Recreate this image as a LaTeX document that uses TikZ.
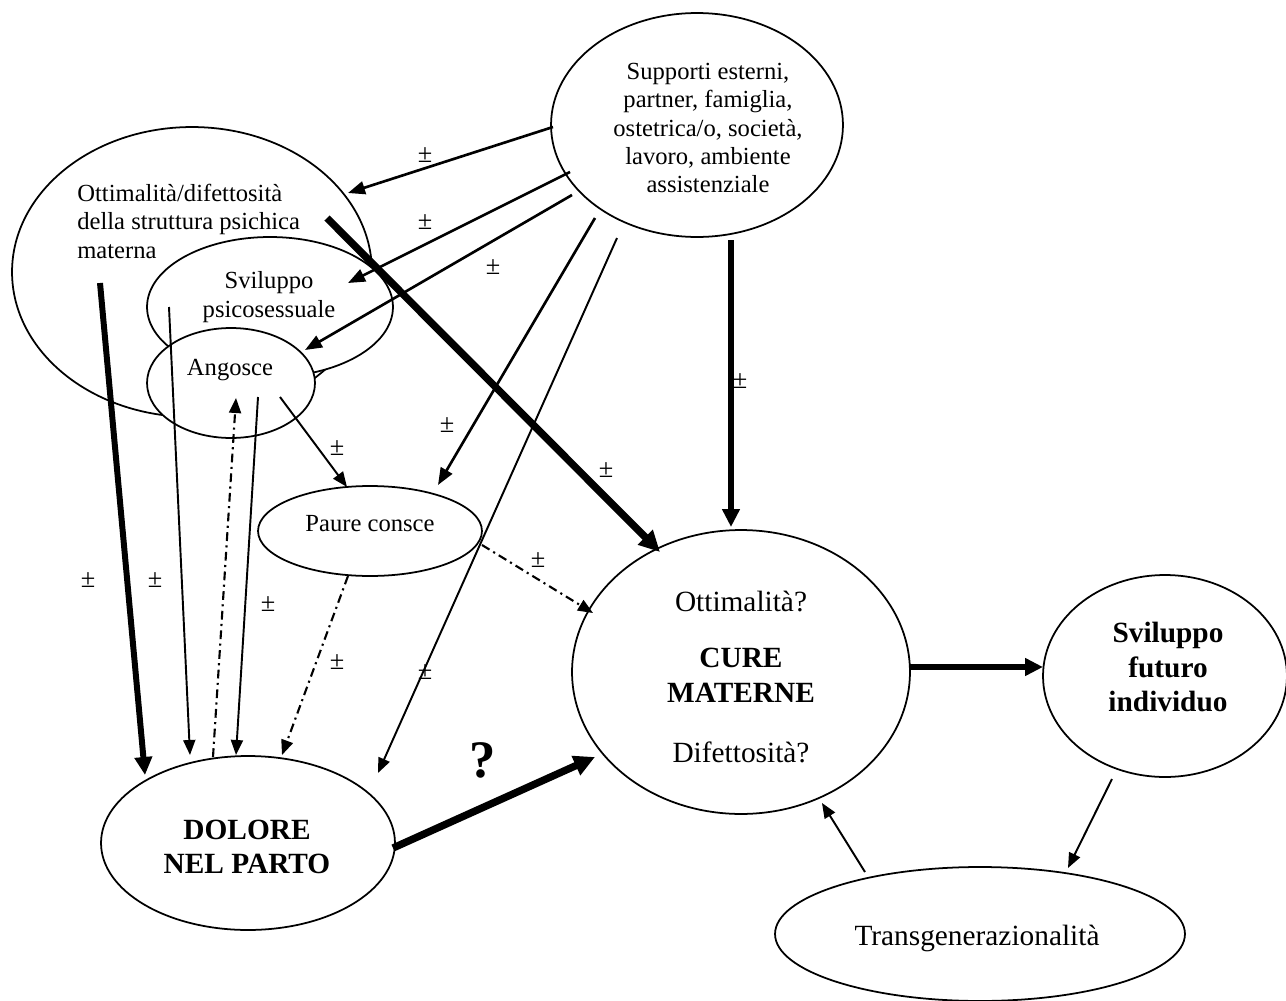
\documentclass[tikz,border=0pt]{standalone}
\usepackage{fontspec}
\setmainfont{Liberation Serif}
\usetikzlibrary{shapes.geometric,arrows.meta,calc}
\begin{document}
\begin{tikzpicture}[x=0.02cm,y=-0.02cm,
  ell/.style={ellipse,draw,line width=1pt,fill=white,inner sep=0pt},
  txt/.style={font=\fontsize{14}{16.2}\selectfont,align=center,inner sep=0pt},
  bigr/.style={font=\fontsize{16.7}{19.8}\selectfont,align=center,inner sep=0pt},
  bigb/.style={font=\bfseries\fontsize{16.7}{19.8}\selectfont,align=center,inner sep=0pt},
  pm/.style={font=\fontsize{15}{15}\selectfont,inner sep=0pt},
  thinarr/.style={line width=1.1pt,-{Triangle[length=0.3cm,width=0.24cm]}},
  medarr/.style={line width=1.5pt,-{Triangle[length=0.34cm,width=0.26cm]}},
  heavyarr/.style={line width=3.4pt,-{Triangle[length=0.36cm,width=0.34cm]}},
  heavierarr/.style={line width=4.2pt,-{Triangle[length=0.42cm,width=0.4cm]}},
  dasharr/.style={line width=1.2pt,dash pattern=on 5pt off 2.5pt on 1.2pt off 2.5pt,-{Triangle[length=0.3cm,width=0.24cm]}},
]
\fill[white] (0,0) rectangle (1286,1001);
\useasboundingbox (0,0) rectangle (1286,1001);

% ellipses
\node[ell,minimum width=5.84cm,minimum height=4.48cm] (sup) at (697,125) {};
\node[ell,minimum width=7.2cm,minimum height=5.8cm] (ott) at (192,272) {};
\node[ell,minimum width=4.92cm,minimum height=2.8cm] (svi) at (270,307) {};
\node[ell,minimum width=3.36cm,minimum height=2.2cm] (ang) at (231,383) {};
\node[ell,minimum width=4.48cm,minimum height=1.8cm] (pau) at (370,531) {};
\node[ell,minimum width=5.88cm,minimum height=3.48cm] (dol) at (248,843) {};
\node[ell,minimum width=6.76cm,minimum height=5.68cm] (cur) at (741,672) {};
\node[ell,minimum width=4.88cm,minimum height=4.04cm] (fut) at (1165,676) {};
\node[ell,minimum width=8.2cm,minimum height=2.68cm] (tra) at (980,934) {};

% texts
\node[txt] (supT) at (708,128) {Supporti esterni,\\partner, famiglia,\\ostetrica/o, società,\\lavoro, ambiente\\assistenziale};
\node[txt,align=left,anchor=west] (ottT) at (77,221) {Ottimalità/difettosità\\della struttura psichica\\materna};
\node[txt] (sviT) at (269,297) {Sviluppo\\psicosessuale};
\node[txt] (angT) at (230,370) {Angosce};
\node[txt] (pauT) at (370,524) {Paure consce};
\node[bigb] (dolT) at (247,847) {DOLORE\\NEL PARTO};
\node[bigr] (curA) at (741,602) {Ottimalità?};
\node[bigb] (curB) at (741,675) {CURE\\MATERNE};
\node[bigr] (curC) at (741,752) {Difettosità?};
\node[bigb] (futT) at (1168,667) {Sviluppo\\futuro\\individuo};
\node[bigr] (traT) at (977,938) {Transgenerazionalità};
\node[font=\bfseries\fontsize{30}{30}\selectfont,inner sep=0pt] (q) at (483,760) {?};

% arrows
\draw[medarr] ($(sup.center)+(-144,2)$) -- ($(ott.center)+(156,-79)$);
\draw[medarr] ($(sup.center)+(-127,47)$) -- ($(svi.center)+(78,-24)$);
\draw[medarr] ($(sup.center)+(-125,70)$) -- ($(ang.center)+(74,-33)$);
\draw[medarr] ($(sup.center)+(-102,93)$) -- ($(pau.center)+(68,-46)$);
\draw[thinarr] ($(sup.center)+(-80,113)$) -- ($(dol.center)+(130,-70)$);
\draw[heavyarr] ($(sup.center)+(34,115)$) -- ($(cur.center)+(-10,-145)$);
\draw[heavierarr] ($(ott.center)+(135,-54)$) -- ($(cur.center)+(-81,-120)$);
\draw[heavyarr] ($(ott.center)+(-92,11)$) -- ($(dol.center)+(-103,-68)$);
\draw[thinarr] ($(svi.center)+(-101,0)$) -- ($(dol.center)+(-58,-88)$);
\draw[dasharr] ($(dol.center)+(-35,-86)$) -- ($(ang.center)+(5,15)$);
\draw[thinarr] ($(ang.center)+(27,14)$) -- ($(dol.center)+(-12,-88)$);
\draw[thinarr] ($(ang.center)+(49,14)$) -- ($(pau.center)+(-23,-44)$);
\draw[dasharr] ($(pau.center)+(-22,45)$) -- ($(dol.center)+(34,-88)$);
\draw[dasharr] ($(pau.center)+(112,14)$) -- ($(cur.center)+(-148,-59)$);
\draw[heavierarr] ($(dol.center)+(145,5)$) -- ($(cur.center)+(-146,85)$);
\draw[heavyarr] ($(cur.center)+(169,-5)$) -- ($(fut.center)+(-122,-9)$);
\draw[thinarr] ($(fut.center)+(-53,103)$) -- ($(tra.center)+(88,-66)$);
\draw[thinarr] ($(tra.center)+(-115,-62)$) -- ($(cur.center)+(81,131)$);

% plus-minus labels
\node[pm] (pm1) at (425,155) {±};
\node[pm] (pm2) at (425,222) {±};
\node[pm] (pm3) at (493,267) {±};
\node[pm] (pm4) at (740,381) {±};
\node[pm] (pm5) at (447,425) {±};
\node[pm] (pm6) at (337,448) {±};
\node[pm] (pm7) at (606,470) {±};
\node[pm] (pm8) at (538,560) {±};
\node[pm] (pm9) at (88,580) {±};
\node[pm] (pm10) at (155,580) {±};
\node[pm] (pm11) at (268,604) {±};
\node[pm] (pm12) at (337,662) {±};
\node[pm] (pm13) at (425,672) {±};
\end{tikzpicture}
\end{document}
